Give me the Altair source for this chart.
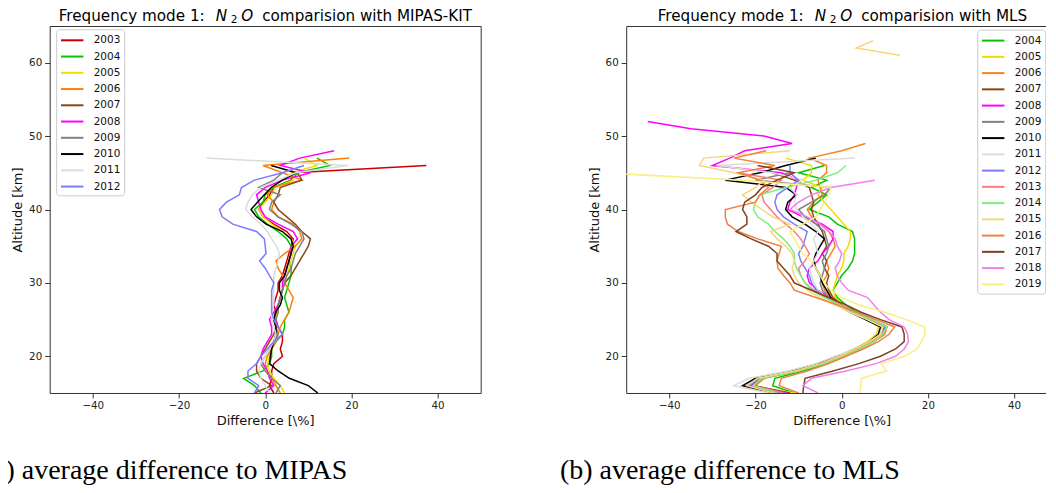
import altair as alt
import pandas as pd

ALT_START = 15  # every profile starts at 15 km, one value per km
X_TICKS = [-40, -20, 0, 20, 40]
Y_TICKS = [20, 30, 40, 50, 60]

# left panel: difference to MIPAS-KIT [%]
MIPAS_YEARS = ["2003", "2004", "2005", "2006", "2007", "2008", "2009", "2010", "2011", "2012"]
MIPAS_COLORS = ["#cc0000", "#00c800", "#f0e000", "#ff8000", "#8b4513",
                "#ff00ff", "#808080", "#000000", "#dcdcdc", "#7b7bff"]
mipas_2003 = [2, 1, 1.5, 1.5, 2, 4, 3.5, 4, 4, 3, 2.5, 2.5, 2, 2.5, 3, 3, 4, 4.5, 5, 5.5,
              6, 6.5, 5, 2, -0.5, -1.5, -0.5, 1, 2, 6, 6.5, 37.4]
mipas_2004 = [-1, -2.5, -5, -0.5, 1, 1.5, 1.5, 2.5, 4, 4.5, 4.5, 5.5, 5, 4.5, 5, 5.5, 6, 6, 5.5, 6,
              6, 5, 3, 0.5, -1.5, -2.5, -0.5, 0, 2, 6, 7.5, 15, 12]
mipas_2005 = [4.5, 3.5, 2, 1, 0.5, 1, 1.5, 2, 3, 2.5, 2, 3, 3, 3.5, 4, 4.5, 5, 5.5, 6, 6.5,
              7, 6, 4, 1.5, -0.5, -1.5, 0, 1.5, 2.5, 6.5, 6, 12, 9]
mipas_2006 = [3.5, 2.5, 1.5, 0.5, 0, 0.5, 1.5, 2.5, 3, 3.5, 4.5, 5.5, 6, 6.5, 5.5, 4.5, 4, 3, 2.5, 4.5,
              7, 8.5, 8, 6.5, 3, 1.5, 2, 0.5, 1.5, 8.5, 4, -0.5, 19.5]
mipas_2007 = [-2.5, 1.5, -1, -2, -2, -1, 0, 1, 2, 2.5, 2, 2.5, 3, 3.5, 4, 4.5, 6, 7, 8, 9,
              10, 10.5, 8.5, 7, 5, 3, 2, 3, 3.5, 8.5, 7.5]
mipas_2008 = [0, 2, 1, 0.5, -0.5, -1, -0.5, 0.5, 1.5, 1.5, 1, 2, 3, 3.5, 4, 4, 4.5, 5, 5.5, 6,
              6, 7.5, 6.5, 3, 0, -1, -1.5, -2, 0, 4, 10.5, 3.5, 8, 16]
mipas_2009 = [2.5, 3.5, 1.5, 0, -1, 0, 1, 2, 3, 2.5, 2.5, 3, 3, 3.5, 4, 4.5, 5, 6, 6.5, 7,
              8, 9, 8.5, 6, 3, 1, 1.5, 3.5, -1.5, 2, 4]
mipas_2010 = [12.2, 10, 5.6, 3, 1, 1.2, 1.5, 2, 2.5, 2.5, 2, 2.4, 3.5, 4, 3.3, 3.3, 4.5, 5, 5.5, 6,
              6.5, 6, 4, 0.2, -2, -3.3, -1.8, -0.2, 1.4, 4, 7.2, 1.4]
mipas_2011 = [1, 0, -1, -1.5, -1, 0, 1, 2, 2.5, 2, 1.5, 1.5, 2, 2, 2, 2, 2, 2.5, 3, 3.3,
              2.6, 1.5, 0.5, -1, -3, -4.5, -4, -3, -1, 3, 7, 19.2, -13.6]
mipas_2012 = [-2.5, -1.5, -4, -4, -2, -1, 0.5, 2, 4, 3, 2, 1.5, 1.5, 1.5, 1.5, 2, 1, 0, -1.3, 0.2,
              0, -0.2, -2, -7.5, -10, -10.6, -9, -6, -5.5, -2.5, 4, 9]

# right panel: difference to MLS [%]
MLS_YEARS = ["2004", "2005", "2006", "2007", "2008", "2009", "2010", "2011",
             "2012", "2013", "2014", "2015", "2016", "2017", "2018", "2019"]
MLS_COLORS = ["#00c800", "#f0dc00", "#f5841f", "#8b4513", "#ff00ff", "#808080", "#000000", "#dcdcdc",
              "#7b7bff", "#ff7b7b", "#7bf07b", "#f5d77b", "#f08040", "#7f4020", "#f07ff0", "#f7ef7f"]
mls_2004 = [-11, -16, -15.5, -9, -3.5, 0.5, 4, 7.5, 9.5, 10.5, 7, 3.5, 1, -1, -2, -1, 0, 1.5, 2.5, 3,
            3, 3, 2.5, -1, -3, -7.5, -5.5, -3.5, -7, -3.5, -10, -4]
mls_2005 = [-11, -21, -19.5, -11, -5, -0.5, 3, 6, 8, 8.5, 6, 2.5, 0, -1.5, -2, -1.5, -1, 0, 0.5, 0.5,
            1.5, 2, 2, 0.5, -1, -2.5, -4, -5.5, -4.5, -9, -7, -7, -13]
mls_2006 = [-13, -20, -18, -10, -4, 0.5, 4, 7.5, 10, 10.5, 7, 3, 0, -2.5, -4, -4.5, -3.5, -3, -3.5, -2.5,
            -1.5, -2, -3, -5, -7, -8, -6.5, -4.5, -5, -5.5, -3.5, -3.5, -7.5, 0, 5.5]
mls_2007 = [-12, -20.5, -18.5, -10.5, -4.5, 0, 3.5, 7, 9.5, 10, 6.5, 2.5, 0, -2, -3, -3.5, -3, -4, -3.5, -4.5,
            -3.5, -4, -4.5, -5.5, -6.5, -7, -6.5, -7, -7.5, -11, -16]
mls_2008 = [-12.5, -21, -19, -11, -4.5, 0, 3.5, 7, 9.5, 10, 6.5, 2.5, -0.5, -3, -5.5, -7.5, -8, -7.5, -5.5, -4.5,
            -3, -2, -2, -4.5, -9, -12.5, -12, -11, -10.5, -10, -14, -30, -26, -22.5, -11.5, -18, -35, -45]
mls_2009 = [-13, -22, -19.5, -11, -5, -0.5, 3.5, 7, 9, 9.5, 6.5, 2.5, -0.5, -3, -4.5, -5, -4.5, -4, -4.5, -3.5,
            -3, -3.5, -4, -6, -8.5, -10, -7, -4, -2.5, -20, -12]
mls_2010 = [-16, -23, -20, -11.5, -5.5, -1, 3, 6.5, 8.5, 9, 5.5, 2, -1, -2.5, -3.5, -4.5, -5, -6, -6.5, -6,
            -5, -4, -6, -8.5, -11.5, -13, -12.5, -10.5, -13, -27, -19, -13, -6]
mls_2011 = [-17, -25, -21.5, -12.5, -6, -1.5, 3, 6.5, 9, 9.5, 6, 2, -1, -3.5, -5.5, -6.5, -7, -7.5, -6.5, -5.5,
            -6, -6.5, -5.5, -7, -9, -10.5, -11, -10.5, -12, -9, -16, -29, 3]
mls_2012 = [-14, -21.5, -19, -10.5, -4.5, 0, 3.5, 7, 9.5, 10, 6.5, 2.5, -0.5, -3.5, -6, -7, -7.5, -8.5, -9.5, -10,
            -9, -8.5, -8, -11, -13.5, -15, -15.5, -15, -12.5, -10, -12, -12]
mls_2013 = [-13.5, -20.5, -18.5, -10.5, -4.5, 0, 3.5, 7, 9.5, 10.5, 7, 3, 0, -3.5, -6.5, -8.5, -9.5, -10, -8.5, -7.5,
            -8.5, -9.5, -11, -13, -15, -16.5, -18, -18.5, -16, -14, -24]
mls_2014 = [-15, -20.5, -18.5, -10, -4, 0.5, 4, 7.5, 9.5, 10.5, 7, 3, -0.5, -4, -7, -8.5, -9.5, -10.5, -11, -11,
            -12, -13.5, -15.5, -17, -19.5, -20.5, -20, -19, -13, -6, -1, 1]
mls_2015 = [-16, -22, -19.5, -11, -5, -0.5, 3, 6.5, 9, 9.5, 6, 2, -1.5, -5, -8, -10, -11, -11.5, -11, -11.5,
            -13, -15, -16.5, -12, -16, -18.5, -21, -23, -20, -18, -25, -33, -32, -12]
mls_2015_top_alt = [61, 62, 63]
mls_2015_top = [13.5, 3.4, 7.3]
mls_2016 = [-10, -14.5, -14, -8, -3, 1, 5, 8.5, 11, 12.3, 8, 3.5, -1, -6, -11, -12, -13.5, -14.8, -15, -14.5,
            -14, -19.5, -24, -26.5, -27, -27, -20, -19, -17, -19, -24, -15.5, -25, -17.5]
mls_2017 = [-9, -8.8, -8.5, -2, 4, 9, 12.5, 14.5, 14.5, 14, 9, 4.5, 1, -3, -7, -11, -12, -13.5, -15, -15,
            -17, -21, -24.5, -22, -22, -23, -22.5, -20, -18.5, -15, -11, -19.5]
mls_2018 = [-5.5, -9, -7, 1, 8, 12.5, 14.5, 15.5, 15.3, 14.5, 11, 9, 7.5, 6, 1.5, 0, -1, -1.5, -0.5, 0,
            -1, -1.5, -3, -5, -8, -12, -10, -7, -2.5, 7.7]
mls_2019 = [4.2, 4.4, 4.6, 10.4, 9.2, 14.6, 17.5, 18.5, 19.3, 19.3, 15, 10, 4, 0, -2.5, -4, -5, -6, -7, -9,
            -10, -11, -12, -9, -6, -5, -4, -3, -2.5, -23, -56]

MIPAS_SERIES = [mipas_2003, mipas_2004, mipas_2005, mipas_2006, mipas_2007,
                mipas_2008, mipas_2009, mipas_2010, mipas_2011, mipas_2012]
MLS_SERIES = [mls_2004, mls_2005, mls_2006, mls_2007, mls_2008, mls_2009, mls_2010, mls_2011,
              mls_2012, mls_2013, mls_2014, mls_2015, mls_2016, mls_2017, mls_2018, mls_2019]


def profile_frame(years, series, extra=()):
    """Long table (year, seg, alt, diff) from the per-year profiles."""
    rows = []
    for year, values in zip(years, series):
        for i, v in enumerate(values):
            rows.append({"year": year, "seg": year, "alt": ALT_START + i, "diff": v})
    # detached pieces of a profile get their own segment id
    for year, alts, values in extra:
        for a, v in zip(alts, values):
            rows.append({"year": year, "seg": year + "b", "alt": a, "diff": v})
    return pd.DataFrame(rows)


def text_at(label, x, y, size, style="normal", font="DejaVu Sans"):
    return (
        alt.Chart(pd.DataFrame({"label": [label]}))
        .mark_text(align="left", baseline="alphabetic", font=font, fontSize=size,
                   fontStyle=style, color="black")
        .encode(x=alt.value(x), y=alt.value(y), text="label:N")
    )


def title_marks(source, x0):
    # matplotlib-like title with an italic N_2O in the middle
    y = -5.2
    return [
        text_at("Frequency mode 1:", x0, y, 15.2),
        text_at("N", x0 + 157, y, 15.2, "italic"),
        text_at("2", x0 + 172, y + 2.6, 10.6),
        text_at("O", x0 + 182.5, y, 15.2, "italic"),
        text_at("comparision with " + source, x0 + 203.5, y, 15.2),
    ]


def year_legend(x, y):
    return alt.Legend(
        title=None, orient="none", legendX=x, legendY=y, padding=3,
        symbolType="M-1.6,0H1.6", symbolSize=196, symbolStrokeWidth=2, symbolOffset=5,
        labelOffset=13.5, labelFontSize=10.5, labelColor="#111111", rowPadding=2.25,
        strokeColor="#cccccc", cornerRadius=3, fillColor="white",
    )


def panel(df, years, colors, legend, source, title_x0, caption, caption_x):
    lines = alt.Chart(df).mark_line(clip=True, strokeWidth=1.5).encode(
        x=alt.X("diff:Q", scale=alt.Scale(domain=[-50, 50], nice=False),
                axis=alt.Axis(values=X_TICKS, title="Difference [\\%]",
                              labelExpr="replace(datum.label, '-', '\u2212')")),
        y=alt.Y("alt:Q", scale=alt.Scale(domain=[15, 65], nice=False, zero=False),
                axis=alt.Axis(values=Y_TICKS, title="Altitude [km]")),
        color=alt.Color("year:N", scale=alt.Scale(domain=years, range=colors), legend=legend),
        detail="seg:N",
        order="alt:Q",
    )
    cap = text_at(caption, caption_x, 453.5, 28, font="Liberation Serif")
    return alt.layer(lines, *title_marks(source, title_x0), cap).properties(width=431, height=367)


mipas_df = profile_frame(MIPAS_YEARS, MIPAS_SERIES)
mls_df = profile_frame(MLS_YEARS, MLS_SERIES, extra=[("2015", mls_2015_top_alt, mls_2015_top)])

left = panel(mipas_df, MIPAS_YEARS, MIPAS_COLORS, year_legend(6.5, 3.3),
             "MIPAS-KIT", 9, "(a) average difference to MIPAS", -66)
right = panel(mls_df, MLS_YEARS, MLS_COLORS, year_legend(351, 3.6),
              "MLS", 31.5, "(b) average difference to MLS", -66.3)

chart = (
    alt.hconcat(left, right, spacing=77.5)
    .resolve_scale(color="independent")
    .properties(padding={"left": -25.3, "top": 0, "right": -11.5, "bottom": -0.5})
    .configure(font="DejaVu Sans")
    .configure_view(stroke="#333333", strokeWidth=1)
    .configure_axis(grid=False, domain=False, tickColor="#333333", tickSize=5, tickWidth=1,
                    labelFontSize=10.3, labelColor="#222222", labelPadding=3,
                    titleFontSize=13, titleFontWeight="normal", titleColor="#111111")
    .configure_axisX(titlePadding=3)
    .configure_axisY(titlePadding=4)
)

chart.save("out.html", embed_options={"renderer": "svg", "actions": False})
